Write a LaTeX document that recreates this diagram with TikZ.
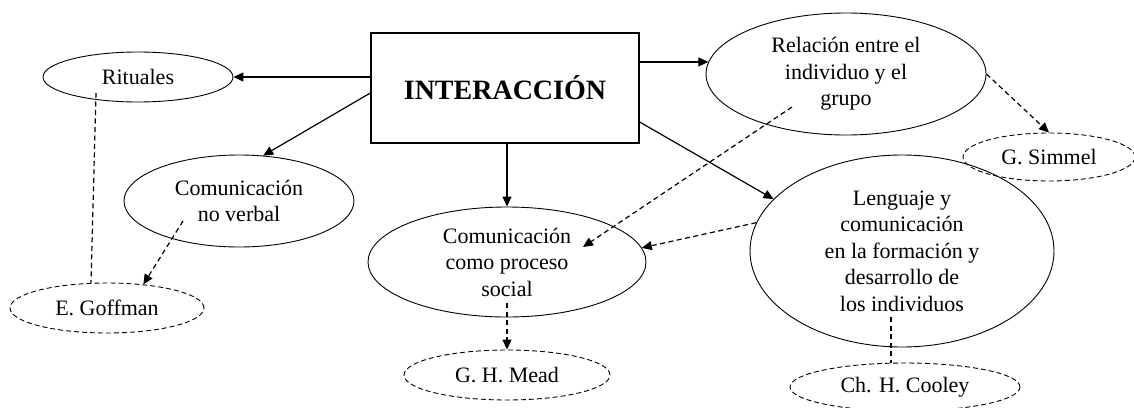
\documentclass[tikz,border=0pt]{standalone}
\usepackage{fontspec}
\setmainfont{Liberation Serif}
\usetikzlibrary{shapes.geometric,arrows.meta}
\begin{document}
\begin{tikzpicture}[x=1pt,y=-1pt,
  every node/.style={font=\fontsize{22}{26.5}\selectfont, align=center, inner sep=0pt},
  concept/.style={ellipse, draw, line width=0.9pt},
  author/.style={ellipse, draw, line width=0.9pt, dash pattern=on 5pt off 3pt},
  mainbox/.style={rectangle, draw, line width=1.3pt, minimum width=268pt, minimum height=110pt,
     font=\fontsize{28}{32}\selectfont\bfseries},
  arr/.style={line width=1.2pt, -{Triangle[length=10pt,width=9pt]}},
  darr/.style={line width=1.2pt, dash pattern=on 5pt off 3.5pt, -{Triangle[length=10pt,width=9pt]}},
  dline/.style={line width=1.2pt, dash pattern=on 5pt off 3.5pt}
]
\useasboundingbox (0,0) rectangle (1134,407);
\fill[white] (0,0) rectangle (1134,407);

\node[mainbox] (box) at (505,88) {INTERACCIÓN};

\node[concept, minimum width=190pt, minimum height=50pt] (rit) at (138,77) {Rituales};
\node[concept, minimum width=230pt, minimum height=92pt] (cnv) at (239,201) {Comunicación\\no verbal};
\node[concept, minimum width=278pt, minimum height=110pt] (cps) at (507,262) {Comunicación\\como proceso\\social};
\node[concept, minimum width=280pt, minimum height=122pt] (rel) at (846,74) {Relación entre el\\individuo y el\\grupo};
\node[concept, minimum width=304pt, minimum height=192pt] (len) at (902,251) {Lenguaje y\\comunicación\\en la formación y\\desarrollo de\\los individuos};

\node[author, minimum width=194pt, minimum height=50pt] (goff) at (107,308) {E. Goffman};
\node[author, minimum width=172pt, minimum height=48pt] (sim) at (1049,157) {G. Simmel};
\node[author, minimum width=206pt, minimum height=50pt] (mead) at (507,375) {G. H. Mead};
\node[author, minimum width=230pt, minimum height=48pt] (coo) at (905,387) {Ch. H. Cooley};

% solid arrows from the box
\draw[arr] (box.west |- rit.east) -- (rit.east);
\draw[arr] ([yshift=-5pt]box.west) -- (cnv.62);
\draw[arr] (box.south -| cps.north) -- (cps.north);
\draw[arr] (box.east |- rel.175) -- (rel.175);
\draw[arr] ([yshift=-34pt]box.east) -- (len.158);

% dashed connectors
\draw[dline] ([xshift=-42pt,yshift=-16pt]rit.center) -- ([xshift=-16pt]goff.north);
\draw[darr] ([xshift=-56pt,yshift=-20pt]cnv.center) -- (goff.33);
\draw[darr] ([xshift=-54pt,yshift=-33pt]rel.center) -- ([xshift=76pt,yshift=15pt]cps.center);
\draw[darr] (len.169) -- (cps.6);
\draw[darr] (rel.east) -- (sim.north);
\draw[darr] ([yshift=-41pt]cps.center) -- (mead.north);
\draw[dline] ([xshift=-11pt,yshift=-66pt]len.center) -- ([xshift=-14pt]coo.north);
\end{tikzpicture}
\end{document}
